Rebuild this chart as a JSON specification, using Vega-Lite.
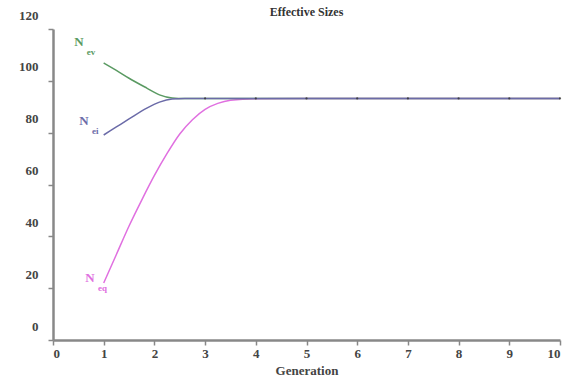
{
  "$schema": "https://vega.github.io/schema/vega-lite/v6.json",
  "width": 507,
  "height": 311,
  "autosize": "none",
  "padding": {"left": 53, "top": 29, "right": 13, "bottom": 49},
  "background": "white",
  "title": {"text": "Effective Sizes", "font": "Liberation Serif", "fontSize": 12, "fontWeight": "bold", "color": "#333", "anchor": "middle", "offset": -10},
  "config": {"view": {"stroke": null}},
  "datasets": {
    "curves": [
      {"series": "eq", "gen": 1, "value": 22},
      {"series": "eq", "gen": 1.25, "value": 33},
      {"series": "eq", "gen": 1.5, "value": 44},
      {"series": "eq", "gen": 1.75, "value": 54},
      {"series": "eq", "gen": 2, "value": 63.5},
      {"series": "eq", "gen": 2.25, "value": 72},
      {"series": "eq", "gen": 2.5, "value": 79.5},
      {"series": "eq", "gen": 2.75, "value": 85},
      {"series": "eq", "gen": 3, "value": 89},
      {"series": "eq", "gen": 3.25, "value": 91.3},
      {"series": "eq", "gen": 3.5, "value": 92.5},
      {"series": "eq", "gen": 4, "value": 93.1},
      {"series": "eq", "gen": 5, "value": 93.2},
      {"series": "eq", "gen": 10, "value": 93.2},
      {"series": "ev", "gen": 1, "value": 106.9},
      {"series": "ev", "gen": 1.25, "value": 104},
      {"series": "ev", "gen": 1.5, "value": 101},
      {"series": "ev", "gen": 1.85, "value": 97.2},
      {"series": "ev", "gen": 2.1, "value": 94.6},
      {"series": "ev", "gen": 2.35, "value": 93.4},
      {"series": "ev", "gen": 2.6, "value": 93.2},
      {"series": "ev", "gen": 3, "value": 93.2},
      {"series": "ev", "gen": 10, "value": 93.2},
      {"series": "ei", "gen": 1, "value": 79.1},
      {"series": "ei", "gen": 1.25, "value": 82.2},
      {"series": "ei", "gen": 1.5, "value": 85.3},
      {"series": "ei", "gen": 1.85, "value": 89.5},
      {"series": "ei", "gen": 2.1, "value": 91.8},
      {"series": "ei", "gen": 2.35, "value": 93},
      {"series": "ei", "gen": 2.6, "value": 93.2},
      {"series": "ei", "gen": 3, "value": 93.2},
      {"series": "ei", "gen": 4, "value": 93.2},
      {"series": "ei", "gen": 5, "value": 93.2},
      {"series": "ei", "gen": 6, "value": 93.2},
      {"series": "ei", "gen": 7, "value": 93.2},
      {"series": "ei", "gen": 8, "value": 93.2},
      {"series": "ei", "gen": 9, "value": 93.2},
      {"series": "ei", "gen": 10, "value": 93.2}
    ],
    "labels": [
      {"series": "ev", "gen": 0.51, "value": 115, "sub": "ev"},
      {"series": "ei", "gen": 0.61, "value": 84.5, "sub": "ei"},
      {"series": "eq", "gen": 0.73, "value": 24, "sub": "eq"}
    ]
  },
  "layer": [
    {
      "data": {"name": "curves"},
      "mark": {"type": "line", "interpolate": "monotone", "strokeWidth": 1.5},
      "encoding": {
        "x": {"field": "gen", "type": "quantitative", "scale": {"domain": [0, 10], "nice": false},
          "axis": {"values": [0,1,2,3,4,5,6,7,8,9,10], "title": "Generation", "grid": false,
            "domainColor": "#888", "domainWidth": 2.5, "tickColor": "#888", "tickWidth": 1.5, "tickSize": 5,
            "labelFont": "Liberation Serif", "labelFontSize": 13, "labelFontWeight": "bold", "labelColor": "#444", "labelPadding": 2,
            "titleFont": "Liberation Serif", "titleFontSize": 13, "titleFontWeight": "bold", "titleColor": "#444", "titlePadding": 4}},
        "y": {"field": "value", "type": "quantitative", "scale": {"domain": [0, 120], "nice": false},
          "axis": {"values": [0,20,40,60,80,100,120], "title": null, "grid": false,
            "domainColor": "#888", "domainWidth": 2.5, "tickColor": "#888", "tickWidth": 1.5, "tickSize": 5,
            "labelFont": "Liberation Serif", "labelFontSize": 13, "labelFontWeight": "bold", "labelColor": "#444", "labelPadding": 10, "labelOffset": -14}},
        "color": {"field": "series", "type": "nominal", "scale": {"domain": ["eq", "ev", "ei"], "range": ["#e070e0", "#5a9a62", "#6b6ba8"]}, "legend": null},
        "order": {"field": "gen"}
      }
    },
    {
      "data": {"name": "curves"},
      "transform": [{"filter": "datum.series == 'ei' && datum.gen >= 3"}],
      "mark": {"type": "point", "filled": true, "size": 5, "color": "#333", "opacity": 0.8},
      "encoding": {
        "x": {"field": "gen", "type": "quantitative"},
        "y": {"field": "value", "type": "quantitative"}
      }
    },
    {
      "data": {"name": "labels"},
      "mark": {"type": "text", "font": "Liberation Serif", "fontSize": 13, "fontWeight": "bold", "align": "center", "baseline": "middle"},
      "encoding": {
        "x": {"field": "gen", "type": "quantitative"},
        "y": {"field": "value", "type": "quantitative"},
        "text": {"value": "N"},
        "color": {"field": "series", "type": "nominal", "scale": {"domain": ["eq", "ev", "ei"], "range": ["#e050e0", "#3a8a4a", "#2a2a80"]}, "legend": null}
      }
    },
    {
      "data": {"name": "labels"},
      "mark": {"type": "text", "font": "Liberation Serif", "fontSize": 9, "fontWeight": "bold", "align": "left", "baseline": "middle", "dx": 8, "dy": 10},
      "encoding": {
        "x": {"field": "gen", "type": "quantitative"},
        "y": {"field": "value", "type": "quantitative"},
        "text": {"field": "sub"},
        "color": {"field": "series", "type": "nominal", "legend": null}
      }
    }
  ]
}
